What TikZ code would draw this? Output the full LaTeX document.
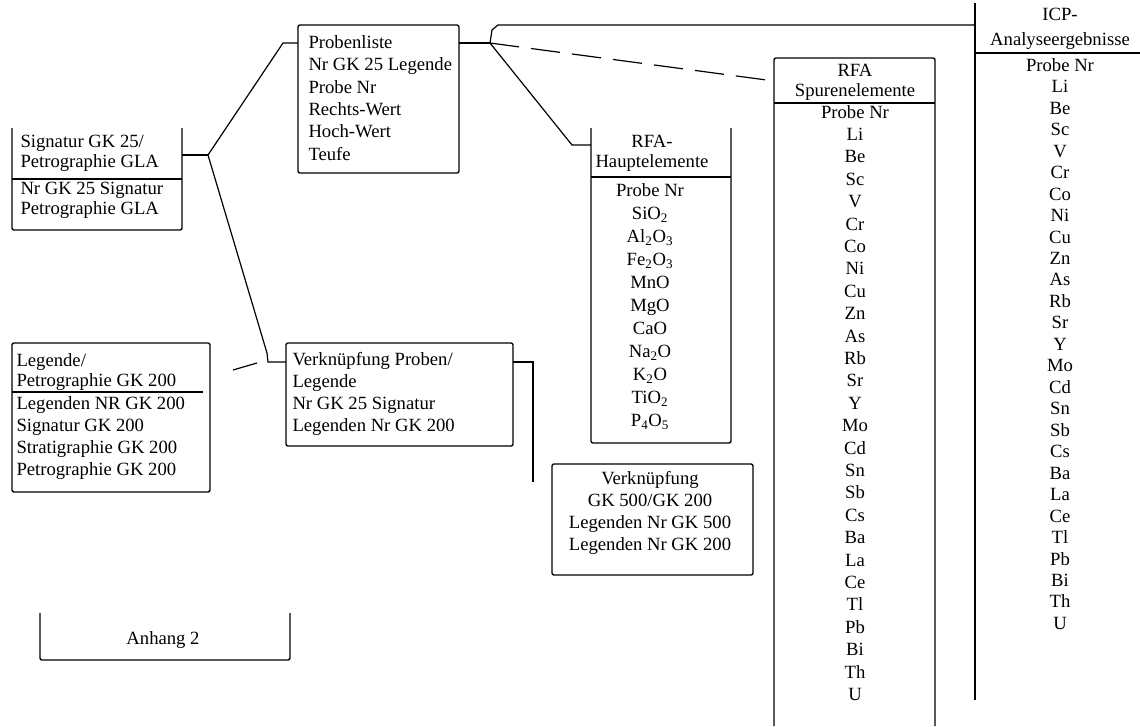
\documentclass[tikz,border=0pt]{standalone}
\usepackage{fontspec}
\setmainfont{Liberation Serif}
\newcommand\rowsp[1]{\fontsize{14}{#1}\selectfont}

\tikzset{every picture/.style={line width=0.75pt}}
\tikzset{
  box/.style={line width=1pt, rounded corners=1.5pt},
  conn/.style={line width=0.9pt},
  lbl/.style={inner sep=0pt, align=left},
  lst/.style={inner sep=0pt, align=center},
}

\begin{document}
\begin{tikzpicture}[x=0.75pt,y=0.75pt,yscale=-1,xscale=1]
\useasboundingbox (0,0) rectangle (1140,726);

%Shape: Signatur GK 25 (open top)
\draw [box] (12,128) -- (12,230) -- (182,230) -- (182,128) ;
\draw [box] (12,179) -- (182,179) ;
%Shape: Probenliste
\draw [box] (298,25) rectangle (459,173) ;
%Shape: RFA-Hauptelemente (open top)
\draw [box] (591,128) -- (591,443) -- (731,443) -- (731,128) ;
\draw [box] (591,177) -- (731,177) ;
%Shape: RFA Spurenelemente
\draw [box] (774,726) -- (774,58) -- (935,58) -- (935,726) ;
\draw [box] (774,103) -- (935,103) ;
%Shape: ICP
\draw [box] (975,3) -- (975,700) ;
\draw [box] (975,53) -- (1140,53) ;
%Shape: Legende
\draw [box] (12,343) rectangle (210,492) ;
\draw [box] (12,392) -- (203,392) ;
%Shape: Verknuepfung Proben
\draw [box] (286,343) rectangle (513,446) ;
\draw [box] (552,464) rectangle (753,575) ;
%Shape: Anhang (open top)
\draw [box] (40,613) -- (40,660) -- (290,660) -- (290,613) ;

% Text Node
\node [lbl, font=\rowsp{15}, anchor=west] (sighead) at (20,153) {Signatur GK 25/\\Petrographie GLA};
\node [lbl, font=\rowsp{15}, anchor=west] (sigbody) at (20,200) {Nr GK 25 Signatur\\Petrographie GLA};
% Text Node
\node [lbl, font=\rowsp{16.8}, anchor=west] (probenliste) at (308,98) {Probenliste\\Nr GK 25 Legende\\Probe Nr\\Rechts-Wert\\Hoch-Wert\\Teufe};
% Text Node
\node [lst, font=\rowsp{15}] (hauptkopf) at (652,153) {RFA-\\Hauptelemente};
\node [lst, font=\rowsp{17.25}] (hauptliste) at (650,307) {Probe Nr\\SiO\textsubscript{2}\\Al\textsubscript{2}O\textsubscript{3}\\Fe\textsubscript{2}O\textsubscript{3}\\MnO\\MgO\\CaO\\Na\textsubscript{2}O\\K\textsubscript{2}O\\TiO\textsubscript{2}\\P\textsubscript{4}O\textsubscript{5}};
% Text Node
\node [lst, font=\rowsp{15}] (spurkopf) at (855,82) {RFA\\Spurenelemente};
\node [lst, font=\rowsp{16.8}] (spurliste) at (855,403) {Probe Nr\\Li\\Be\\Sc\\V\\Cr\\Co\\Ni\\Cu\\Zn\\As\\Rb\\Sr\\Y\\Mo\\Cd\\Sn\\Sb\\Cs\\Ba\\La\\Ce\\Tl\\Pb\\Bi\\Th\\U};
% Text Node
\node [lst, font=\rowsp{19}] (icpkopf) at (1060,29) {ICP-\\Analyseergebnisse};
\node [lst, font=\rowsp{16.1}] (icpliste) at (1060,344) {Probe Nr\\Li\\Be\\Sc\\V\\Cr\\Co\\Ni\\Cu\\Zn\\As\\Rb\\Sr\\Y\\Mo\\Cd\\Sn\\Sb\\Cs\\Ba\\La\\Ce\\Tl\\Pb\\Bi\\Th\\U};
% Text Node
\node [lbl, font=\rowsp{15}, anchor=west] (legkopf) at (16,372) {Legende/\\Petrographie GK 200};
\node [lbl, font=\rowsp{16.7}, anchor=west] (legliste) at (16,438) {Legenden NR GK 200\\Signatur GK 200\\Stratigraphie GK 200\\Petrographie GK 200};
% Text Node
\node [lbl, font=\rowsp{16.3}, anchor=west] (vproben) at (292,394) {Verknüpfung Proben/\\Legende\\Nr GK 25 Signatur\\Legenden Nr GK 200};
% Text Node
\node [lst, font=\rowsp{16.7}] (vgk) at (650,513) {Verknüpfung\\GK 500/GK 200\\Legenden Nr GK 500\\Legenden Nr GK 200};
% Text Node
\node [lst, font=\rowsp{15}] (anhang) at (163,640) {Anhang 2};

% connector ends
\coordinate (sig-e) at (182,155);
\coordinate (j1) at (208,155);
\coordinate (pl-w) at (298,43);
\coordinate (pl-e) at (459,43);
\coordinate (j2) at (490,43);
\coordinate (haupt-w) at (591,145);
\coordinate (spur-w) at (774,81);
\coordinate (icp-w) at (975,25);
\coordinate (vp-w) at (286,362);
\coordinate (vp-e) at (513,362);
\coordinate (stub) at (533,482);

%Straight Lines
\draw [conn] (sig-e) -- (j1) ;
\draw [conn] (j1) -- (283,43) -- (pl-w) ;
\draw [conn] (j1) -- (267,353) -- (268,362) -- (vp-w) ;
\draw [conn] (233,370) -- (257,363) ;
\draw [conn] (pl-e) -- (j2) ;
\draw [conn] (j2) -- (492,30) -- (498,25) -- (icp-w) ;
\draw [conn, dash pattern=on 22pt off 9pt] (j2) -- (spur-w) ;
\draw [conn] (j2) -- (572,145) -- (haupt-w) ;
\draw [conn] (vp-e) -- (533,362) -- (stub) ;

\end{tikzpicture}
\end{document}
